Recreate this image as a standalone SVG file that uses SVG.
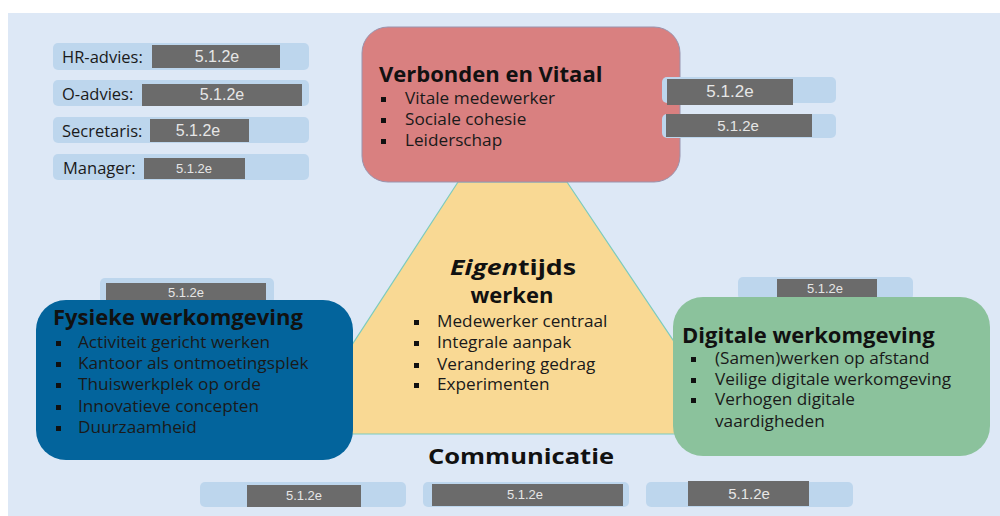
<svg xmlns="http://www.w3.org/2000/svg" width="1000" height="516" viewBox="0 0 1000 516">
  <style>
    .bg { fill: #dde8f6; }
    .slot { fill: #bdd6ed; }
    .mask { fill: #6b6b6b; }
    .code { font-family: "Liberation Sans", Arial, sans-serif; fill: #e6e6e6; text-anchor: middle; }
    .lbl { font-family: "Open Sans", Lato, sans-serif; font-size: 16.5px; fill: #1a1a1a; }
    .title { font-family: "Open Sans", Lato, sans-serif; font-weight: bold; font-size: 22px; fill: #111; }
    .item { font-family: "Open Sans", Lato, sans-serif; font-size: 17.2px; fill: #1a1a1a; }
    .dot { fill: #111; }
  </style>

  <rect x="8" y="13" width="992" height="503" class="bg"/>

  <!-- central trapezoid -->
  <g id="eigentijds">
    <polygon points="458,182 567,182 736,434 294,434" fill="#f9d994" stroke="#7ccbbd" stroke-width="1.2"/>
    <text x="450" y="275" class="title" font-size="27" textLength="126" lengthAdjust="spacingAndGlyphs"><tspan font-style="italic">Eigen</tspan>tijds</text>
    <text x="512" y="303" class="title" font-size="20.5" text-anchor="middle">werken</text>
    <rect x="414" y="320" width="5" height="5" class="dot"/>
    <text x="437" y="327" class="item">Medewerker centraal</text>
    <rect x="414" y="341" width="5" height="5" class="dot"/>
    <text x="437" y="348" class="item">Integrale aanpak</text>
    <rect x="414" y="363" width="5" height="5" class="dot"/>
    <text x="437" y="370" class="item">Verandering gedrag</text>
    <rect x="414" y="383" width="5" height="5" class="dot"/>
    <text x="437" y="390" class="item">Experimenten</text>
  </g>

  <!-- role fields, top left -->
  <g id="roles">
    <rect x="53" y="43" width="256" height="27" rx="5" class="slot"/>
    <rect x="152" y="45" width="128" height="23" class="mask"/>
    <text x="62" y="63" class="lbl">HR-advies:</text>
    <text x="217" y="62" class="code" font-size="16">5.1.2e</text>

    <rect x="53" y="80" width="256" height="26" rx="5" class="slot"/>
    <rect x="142" y="84" width="160" height="22" class="mask"/>
    <text x="62" y="100" class="lbl">O-advies:</text>
    <text x="222" y="100" class="code" font-size="16">5.1.2e</text>

    <rect x="53" y="117" width="256" height="26" rx="5" class="slot"/>
    <rect x="150" y="119" width="99" height="23" class="mask"/>
    <text x="62" y="137" class="lbl">Secretaris:</text>
    <text x="198" y="136" class="code" font-size="16">5.1.2e</text>

    <rect x="53" y="154" width="256" height="26" rx="5" class="slot"/>
    <rect x="144" y="158" width="101" height="21" class="mask"/>
    <text x="63" y="174" class="lbl">Manager:</text>
    <text x="194" y="173" class="code" font-size="13">5.1.2e</text>
  </g>

  <!-- top: connected and vital -->
  <g id="verbonden">
    <rect x="362" y="27" width="318" height="155" rx="26" fill="#d98080" stroke="#9a93ad" stroke-width="1"/>
    <text x="379" y="82" class="title">Verbonden en Vitaal</text>
    <rect x="381" y="97" width="5" height="5" class="dot"/>
    <text x="405" y="104" class="item">Vitale medewerker</text>
    <rect x="381" y="118" width="5" height="5" class="dot"/>
    <text x="405" y="125" class="item">Sociale cohesie</text>
    <rect x="381" y="139" width="5" height="5" class="dot"/>
    <text x="405" y="146" class="item">Leiderschap</text>
  </g>
  <g id="verbonden-fields">
    <rect x="662" y="77" width="174" height="26" rx="5" class="slot"/>
    <rect x="667" y="79" width="126" height="26" class="mask"/>
    <text x="730" y="97" class="code" font-size="17">5.1.2e</text>
    <rect x="662" y="114" width="174" height="24" rx="5" class="slot"/>
    <rect x="666" y="114" width="146" height="23" class="mask"/>
    <text x="738" y="131" class="code" font-size="15">5.1.2e</text>
  </g>

  <!-- left: physical workplace -->
  <g id="fysiek">
    <rect x="100" y="278" width="174" height="26" rx="5" class="slot"/>
    <rect x="106" y="283" width="160" height="20" class="mask"/>
    <text x="186" y="297" class="code" font-size="13">5.1.2e</text>
    <rect x="36" y="300" width="317" height="160" rx="30" fill="#03649c"/>
    <text x="53" y="325" class="title">Fysieke werkomgeving</text>
    <rect x="56" y="341" width="5" height="5" class="dot"/>
    <text x="78" y="348" class="item">Activiteit gericht werken</text>
    <rect x="56" y="362" width="5" height="5" class="dot"/>
    <text x="78" y="369" class="item">Kantoor als ontmoetingsplek</text>
    <rect x="56" y="383" width="5" height="5" class="dot"/>
    <text x="78" y="390" class="item">Thuiswerkplek op orde</text>
    <rect x="56" y="405" width="5" height="5" class="dot"/>
    <text x="78" y="412" class="item">Innovatieve concepten</text>
    <rect x="56" y="426" width="5" height="5" class="dot"/>
    <text x="78" y="433" class="item">Duurzaamheid</text>
  </g>

  <!-- right: digital workplace -->
  <g id="digitaal">
    <rect x="738" y="277" width="175" height="23" rx="5" class="slot"/>
    <rect x="777" y="279" width="100" height="20" class="mask"/>
    <text x="825" y="293" class="code" font-size="13">5.1.2e</text>
    <rect x="673" y="297" width="317" height="159" rx="30" fill="#8bc29c"/>
    <text x="682" y="343" class="title" font-size="22.6">Digitale werkomgeving</text>
    <rect x="691" y="357" width="5" height="5" class="dot"/>
    <text x="715" y="364" class="item">(Samen)werken op afstand</text>
    <rect x="691" y="378" width="5" height="5" class="dot"/>
    <text x="715" y="385" class="item">Veilige digitale werkomgeving</text>
    <rect x="691" y="398" width="5" height="5" class="dot"/>
    <text x="715" y="405" class="item">Verhogen digitale</text>
    <text x="715" y="427" class="item">vaardigheden</text>
  </g>

  <!-- bottom: communication -->
  <g id="communicatie">
    <text x="428" y="464" class="title" font-size="25.5" textLength="186" lengthAdjust="spacingAndGlyphs">Communicatie</text>
    <rect x="200" y="482" width="206" height="25" rx="5" class="slot"/>
    <rect x="247" y="485" width="114" height="22" class="mask"/>
    <text x="304" y="500" class="code" font-size="13">5.1.2e</text>
    <rect x="423" y="482" width="206" height="25" rx="5" class="slot"/>
    <rect x="432" y="484" width="191" height="22" class="mask"/>
    <text x="525" y="499" class="code" font-size="13">5.1.2e</text>
    <rect x="646" y="482" width="207" height="25" rx="5" class="slot"/>
    <rect x="688" y="481" width="121" height="25" class="mask"/>
    <text x="749" y="499" class="code" font-size="15">5.1.2e</text>
  </g>
</svg>
